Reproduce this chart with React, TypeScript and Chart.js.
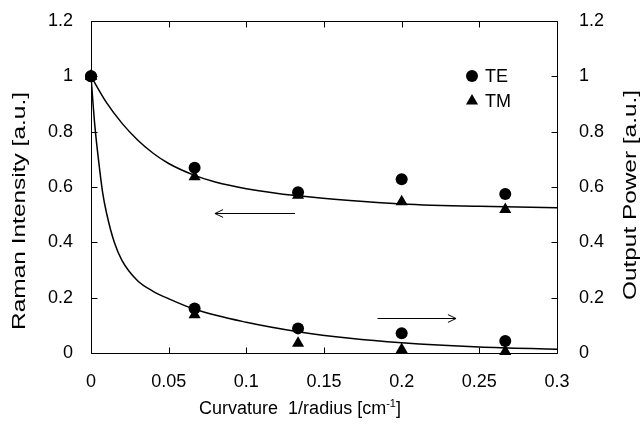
import React, { useEffect, useRef } from "react";
import { Chart, registerables } from "chart.js";

Chart.register(...registerables);

// ---- data ----
const curvature = [0, 0.0667, 0.1333, 0.2, 0.2667];
const ramanTE = [1.0, 0.67, 0.581, 0.628, 0.575];
const ramanTM = [1.0, 0.637, 0.57, 0.547, 0.519];
const powerTE = [1.0, 0.161, 0.089, 0.071, 0.043];
const powerTM = [1.0, 0.138, 0.035, 0.013, 0.005];

const ramanFitX = [0, 0.01, 0.02, 0.03, 0.04, 0.05, 0.0667, 0.08, 0.1, 0.1333, 0.1667, 0.2, 0.25, 0.3];
const ramanFitY = [1.0, 0.905, 0.83, 0.77, 0.722, 0.685, 0.642, 0.618, 0.594, 0.568, 0.551, 0.539, 0.53, 0.525];
const powerFitX = [0, 0.0025, 0.005, 0.0075, 0.01, 0.015, 0.02, 0.03, 0.04, 0.05, 0.0667, 0.1, 0.1333, 0.1667, 0.2, 0.25, 0.3];
const powerFitY = [1.0, 0.82, 0.69, 0.58, 0.506, 0.4, 0.334, 0.261, 0.223, 0.196, 0.158, 0.111, 0.077, 0.053, 0.037, 0.022, 0.014];

const xTickLabels = ["0", "0.05", "0.1", "0.15", "0.2", "0.25", "0.3"];
const yTickLabels = ["0", "0.2", "0.4", "0.6", "0.8", "1", "1.2"];

const ramanArrowX = [0.1313, 0.0798];
const ramanArrowY = [0.507, 0.507];
const powerArrowX = [0.1845, 0.235];
const powerArrowY = [0.125, 0.125];

const legendLabels = ["TE", "TM"];

const xTitleParts = ["Curvature  1/radius [cm", "-1", "]"];
const yTitle = "Raman Intensity [a.u.]";
const y1Title = "Output Power [a.u.]";

const FONT = "'Liberation Sans', Arial, sans-serif";

const pts = (xs: number[], ys: number[]) => xs.map((x, i) => ({ x, y: ys[i] }));
const findLabel = (labels: string[], v: number) =>
  labels.find((l) => Math.abs(parseFloat(l) - v) < 1e-6) ?? "";

const framePlugin = {
  id: "frame",
  afterDatasetsDraw(chart: any) {
    const { ctx, chartArea: a, scales } = chart;
    ctx.save();
    ctx.strokeStyle = "#000";
    ctx.lineWidth = 1;
    const L = Math.round(a.left) + 0.5;
    const R = Math.round(a.right) + 0.5;
    const T = Math.round(a.top) + 0.5;
    const B = Math.round(a.bottom) + 0.5;
    ctx.beginPath();
    ctx.rect(L, T, R - L, B - T);
    ctx.stroke();
    const tl = 6;
    ctx.beginPath();
    scales.x.ticks.forEach((t: any) => {
      const px = Math.round(scales.x.getPixelForValue(t.value)) + 0.5;
      ctx.moveTo(px, B);
      ctx.lineTo(px, B - tl);
      ctx.moveTo(px, T);
      ctx.lineTo(px, T + tl);
    });
    scales.y.ticks.forEach((t: any) => {
      const py = Math.round(scales.y.getPixelForValue(t.value)) + 0.5;
      ctx.moveTo(L, py);
      ctx.lineTo(L + tl, py);
    });
    scales.y1.ticks.forEach((t: any) => {
      const py = Math.round(scales.y1.getPixelForValue(t.value)) + 0.5;
      ctx.moveTo(R, py);
      ctx.lineTo(R - tl, py);
    });
    ctx.stroke();

    // arrows
    const arrow = (xs: number[], ys: number[], yScale: any) => {
      const x0 = scales.x.getPixelForValue(xs[0]);
      const x1 = scales.x.getPixelForValue(xs[1]);
      const y0 = Math.round(yScale.getPixelForValue(ys[0])) + 0.5;
      const y1 = Math.round(yScale.getPixelForValue(ys[1])) + 0.5;
      const ang = Math.atan2(y1 - y0, x1 - x0);
      const h = 9;
      const spread = Math.PI / 7;
      ctx.beginPath();
      ctx.moveTo(x0, y0);
      ctx.lineTo(x1, y1);
      ctx.moveTo(x1 - h * Math.cos(ang - spread), y1 - h * Math.sin(ang - spread));
      ctx.lineTo(x1, y1);
      ctx.lineTo(x1 - h * Math.cos(ang + spread), y1 - h * Math.sin(ang + spread));
      ctx.stroke();
    };
    arrow(ramanArrowX, ramanArrowY, scales.y);
    arrow(powerArrowX, powerArrowY, scales.y1);

    // legend
    const lx = a.right - 85;
    const ly = a.top + 55;
    ctx.fillStyle = "#000";
    ctx.beginPath();
    ctx.arc(lx, ly, 6, 0, Math.PI * 2);
    ctx.fill();
    const ty = ly + 25;
    const r = 7;
    ctx.beginPath();
    ctx.moveTo(lx, ty - r);
    ctx.lineTo(lx + r * Math.sin(Math.PI * 2 / 3), ty - r * Math.cos(Math.PI * 2 / 3));
    ctx.lineTo(lx - r * Math.sin(Math.PI * 2 / 3), ty - r * Math.cos(Math.PI * 2 / 3));
    ctx.closePath();
    ctx.fill();
    ctx.font = `18px ${FONT}`;
    ctx.textAlign = "left";
    ctx.textBaseline = "middle";
    ctx.fillText(legendLabels[0], lx + 13, ly + 1);
    ctx.fillText(legendLabels[1], lx + 13, ty + 1);

    // x axis title with superscript
    {
      const big = `18px ${FONT}`;
      const small = `11px ${FONT}`;
      ctx.textBaseline = "alphabetic";
      ctx.textAlign = "left";
      ctx.font = big;
      const w0 = ctx.measureText(xTitleParts[0]).width;
      const w2 = ctx.measureText(xTitleParts[2]).width;
      ctx.font = small;
      const w1 = ctx.measureText(xTitleParts[1]).width;
      const total = w0 + w1 + w2;
      const cx = a.left + 209;
      const base = a.bottom + 61;
      let x = cx - total / 2;
      ctx.font = big;
      ctx.fillText(xTitleParts[0], x, base);
      x += w0;
      ctx.font = small;
      ctx.fillText(xTitleParts[1], x, base - 7);
      x += w1;
      ctx.font = big;
      ctx.fillText(xTitleParts[2], x, base);
    }

    // vertical axis titles (both read bottom-to-top), stretched along their length
    const vTitle = (text: string, cx: number, cy: number, len: number) => {
      ctx.save();
      ctx.font = `18px ${FONT}`;
      ctx.textAlign = "center";
      ctx.textBaseline = "middle";
      const w = ctx.measureText(text).width;
      ctx.translate(cx, cy);
      ctx.rotate(-Math.PI / 2);
      ctx.scale(len / w, 1);
      ctx.fillText(text, 0, 0);
      ctx.restore();
    };
    vTitle(yTitle, 20, a.top + 190, 238);
    vTitle(y1Title, a.right + 74, a.top + 174, 210);
    ctx.restore();
  },
};

export default function App() {
  const ref = useRef<HTMLCanvasElement | null>(null);
  useEffect(() => {
    if (!ref.current) return;
    const pointBase = {
      showLine: false,
      backgroundColor: "#000",
      borderColor: "#000",
      borderWidth: 0,
      clip: false as any,
    };
    const chart = new Chart(ref.current, {
      type: "scatter",
      data: {
        datasets: [
          {
            label: "Raman fit",
            data: pts(ramanFitX, ramanFitY),
            yAxisID: "y",
            showLine: true,
            borderColor: "#000",
            borderWidth: 1.5,
            pointRadius: 0,
            cubicInterpolationMode: "monotone",
          } as any,
          {
            label: "Power fit",
            data: pts(powerFitX, powerFitY),
            yAxisID: "y1",
            showLine: true,
            borderColor: "#000",
            borderWidth: 1.5,
            pointRadius: 0,
            cubicInterpolationMode: "monotone",
          } as any,
          { ...pointBase, label: "TE", data: pts(curvature, ramanTE), yAxisID: "y", pointStyle: "circle", pointRadius: 6 },
          { ...pointBase, label: "TM", data: pts(curvature, ramanTM), yAxisID: "y", pointStyle: "triangle", pointRadius: 7 },
          { ...pointBase, label: "TE power", data: pts(curvature, powerTE), yAxisID: "y1", pointStyle: "circle", pointRadius: 6 },
          { ...pointBase, label: "TM power", data: pts(curvature, powerTM), yAxisID: "y1", pointStyle: "triangle", pointRadius: 7 },
        ],
      },
      options: {
        animation: false,
        responsive: true,
        maintainAspectRatio: false,
        layout: { padding: { top: 21, left: 0, right: 0, bottom: 0 } },
        plugins: { legend: { display: false }, tooltip: { enabled: false } },
        scales: {
          x: {
            type: "linear",
            min: 0,
            max: 0.3,
            grid: { display: false, drawTicks: false },
            border: { display: false },
            ticks: {
              stepSize: 0.05,
              padding: 18,
              color: "#000",
              font: { family: FONT, size: 18 },
              maxRotation: 0,
              callback: (v: any) => findLabel(xTickLabels, Number(v)),
            },
            afterFit: (s: any) => {
              s.height = 77;
              s.paddingLeft = 0;
              s.paddingRight = 0;
            },
          },
          y: {
            type: "linear",
            position: "left",
            min: 0,
            max: 1.2,
            grid: { display: false, drawTicks: false },
            border: { display: false },
            ticks: {
              stepSize: 0.2,
              padding: 18,
              color: "#000",
              font: { family: FONT, size: 18 },
              callback: (v: any) => findLabel(yTickLabels, Number(v)),
            },
            afterFit: (s: any) => {
              s.width = 91;
              s.paddingTop = 0;
              s.paddingBottom = 0;
            },
          },
          y1: {
            type: "linear",
            position: "right",
            min: 0,
            max: 1.2,
            grid: { display: false, drawTicks: false },
            border: { display: false },
            ticks: {
              stepSize: 0.2,
              padding: 22,
              color: "#000",
              font: { family: FONT, size: 18 },
              callback: (v: any) => findLabel(yTickLabels, Number(v)),
            },
            afterFit: (s: any) => {
              s.width = 85;
              s.paddingTop = 0;
              s.paddingBottom = 0;
            },
          },
        },
      },
      plugins: [framePlugin],
    });
    return () => chart.destroy();
  }, []);

  return (
    <div style={{ position: "fixed", left: 0, top: 0, width: 642, height: 430, background: "#fff" }}>
      <canvas ref={ref} />
    </div>
  );
}
